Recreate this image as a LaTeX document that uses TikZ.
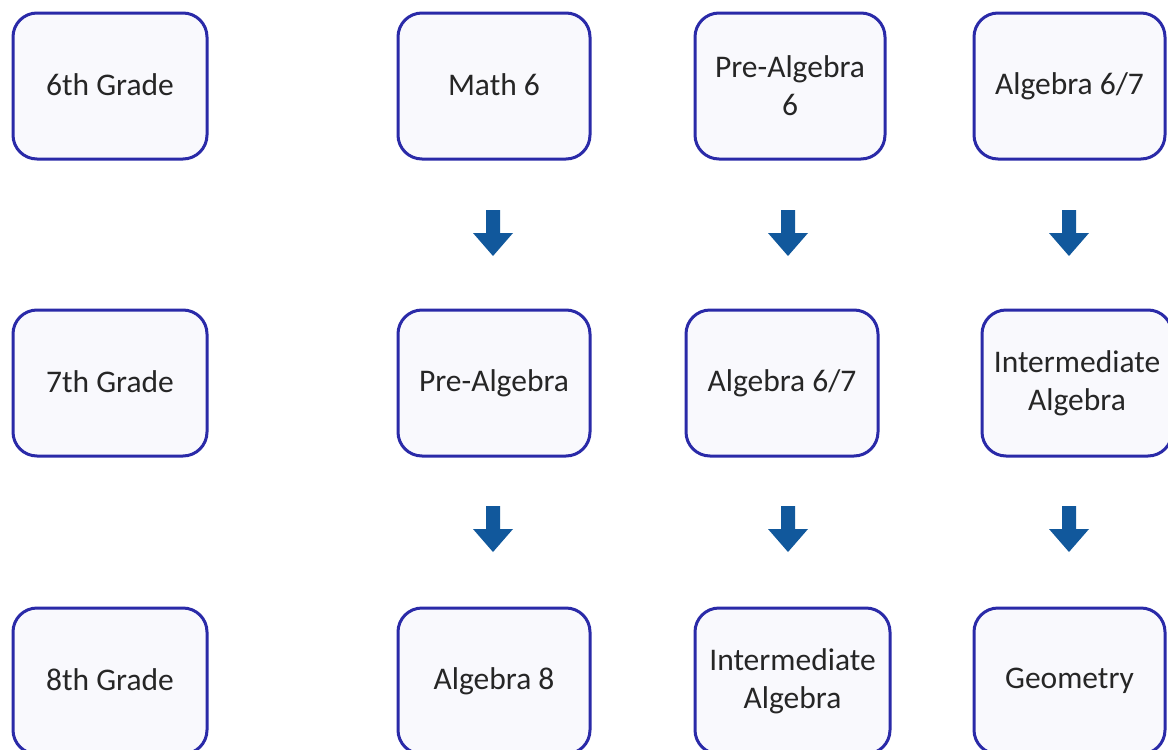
\documentclass[tikz,border=0pt]{standalone}
\usepackage{fontspec}
\setmainfont{Carlito}
\definecolor{boxborder}{HTML}{2A2AA8}
\definecolor{boxfill}{HTML}{F9F9FD}
\definecolor{arrowblue}{HTML}{11589C}
\definecolor{txt}{HTML}{262626}
\begin{document}
\begin{tikzpicture}[x=1pt,y=-1pt,
  box/.style={draw=boxborder, fill=boxfill, line width=3pt, rounded corners=24pt,
    minimum width=192pt, minimum height=146pt, inner sep=0pt, align=center,
    text=txt, font=\fontsize{31.5}{38}\selectfont},
  downarr/.pic={\fill[arrowblue] (-7,0) -- (7,0) -- (7,23) -- (20,23) -- (0,46)
    -- (-20,23) -- (-7,23) -- cycle;}]
\useasboundingbox (0,0) rectangle (1168,750);
\fill[white] (0,0) rectangle (1168,750);
\begin{scope}
\clip (0,0) rectangle (1168,750);
% row 1
\node[box, minimum width=194pt] (g6) at (110,86) {\raisebox{3pt}{6th Grade}};
\node[box] (m6) at (494,86) {\raisebox{3pt}{Math 6}};
\node[box, minimum width=190pt] (pa6) at (790,86) {Pre-Algebra\\6};
\node[box, minimum width=191pt] (a67a) at (1069.5,86) {\raisebox{3pt}{Algebra 6/7}};
% row 2
\node[box, minimum width=194pt] (g7) at (110,383) {\raisebox{3pt}{7th Grade}};
\node[box] (pa) at (494,383) {\raisebox{3pt}{Pre-Algebra}};
\node[box] (a67b) at (782,383) {\raisebox{3pt}{Algebra 6/7}};
\node[box, minimum width=190pt] (ia7) at (1077,383) {Intermediate\\Algebra};
% row 3
\node[box, minimum width=194pt] (g8) at (110,681) {\raisebox{3pt}{8th Grade}};
\node[box] (a8) at (494,681) {\raisebox{3pt}{Algebra 8}};
\node[box, minimum width=195pt] (ia8) at (792.5,681) {Intermediate\\Algebra};
\node[box, minimum width=191pt] (geo) at (1069.5,681) {\raisebox{3pt}{Geometry}};
\end{scope}
% arrows
\coordinate (ar1) at (493,210);
\coordinate (ar2) at (788,210);
\coordinate (ar3) at (1069,210);
\coordinate (ar4) at (493,506);
\coordinate (ar5) at (788,506);
\coordinate (ar6) at (1069,506);
\foreach \a in {ar1,ar2,ar3,ar4,ar5,ar6} \pic at (\a) {downarr};
\end{tikzpicture}
\end{document}
